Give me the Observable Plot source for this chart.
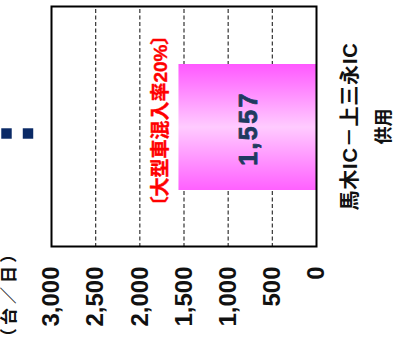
<!DOCTYPE html>
<html>
<head>
<meta charset="utf-8">
<script src="https://cdn.jsdelivr.net/npm/d3@7"></script>
<script src="https://cdn.jsdelivr.net/npm/@observablehq/plot@0.6"></script>
<style>
  html, body { margin: 0; padding: 0; background: #fff; overflow: hidden; }
  #chart {
    position: absolute; left: 0; top: 0; width: 338px; height: 394px;
    transform-origin: 0 0;
    transform: translate(0px, 338px) rotate(-90deg);
  }
  #chart svg { display: block; }
</style>
</head>
<body>
<div id="chart"></div>
<script>
const categories = ["馬木IC－上三永IC\n供用"];
const values = [1557];
const valueLabels = ["1,557"];
const yTicks = [0, 500, 1000, 1500, 2000, 2500, 3000];
const gridTicks = [500, 1000, 1500, 2000, 2500];
const noteText = "〔大型車混入率20%〕";
const unitLabel = "（台／日）";
const markers = ["■", "■"];

const data = categories.map((c, i) => ({
  cat: c, value: values[i], label: valueLabels[i],
  line1: c.split("\n")[0], line2: c.split("\n")[1]
}));

const fontFamily = "'Liberation Sans', 'Noto Sans CJK JP', sans-serif";

const chart = Plot.plot({
  width: 338,
  height: 394,
  marginLeft: 91,
  marginRight: 7,
  marginTop: 51,
  marginBottom: 78,
  style: {fontFamily, background: "#fff", color: "#111"},
  x: {domain: categories, padding: 0.311, axis: null},
  y: {domain: [0, 3000], axis: null},
  marks: [
    Plot.gridY(gridTicks, {stroke: "#333", strokeOpacity: 1, strokeWidth: 1.2, strokeDasharray: "4,2.5"}),
    Plot.barY(data, {x: "cat", y: "value", fill: "url(#barGrad)"}),
    Plot.text(data, {x: "cat", y: d => d.value / 2, text: "label", fill: "#1f3a60", stroke: "#1f3a60", strokeWidth: 0.8, fontSize: 25, fontWeight: "bold", dx: -2, dy: 1}),
    Plot.text(data, {x: "cat", y: "value", text: () => noteText, fill: "#ff0000", stroke: "#ff0000", strokeWidth: 0.4, fontSize: 19, fontWeight: "bold", dy: -18, dx: 6, lineAnchor: "middle"}),
    Plot.axisY({ticks: yTicks, tickSize: 0, tickPadding: 20, tickFormat: d3.format(","), fontSize: 24, fontWeight: "bold", fill: "#111", label: null}),
    Plot.text(data, {x: "cat", text: "line1", frameAnchor: "bottom", lineAnchor: "middle", dy: 34, fontSize: 20, fontWeight: "bold", fill: "#111"}),
    Plot.text(data, {x: "cat", text: "line2", frameAnchor: "bottom", lineAnchor: "middle", dy: 68, fontSize: 18, fontWeight: "bold", fill: "#111"}),
    Plot.text([unitLabel], {text: d => d, frameAnchor: "top-left", textAnchor: "middle", lineAnchor: "middle", dx: -47, dy: -42, fontSize: 17, fontWeight: "bold", fill: "#111"}),
    Plot.dot([markers[0]], {frameAnchor: "top", dx: -7, dy: -45, symbol: "square", r: 5.9, fill: "#0b2a66", stroke: "none"}),
    Plot.dot([markers[1]], {frameAnchor: "top", dx: -7, dy: -23.5, symbol: "square", r: 5.9, fill: "#0b2a66", stroke: "none"}),
    Plot.frame({stroke: "#000", strokeWidth: 2})
  ]
});

const svg = d3.select(chart);
const grad = svg.insert("defs", ":first-child").append("linearGradient")
  .attr("id", "barGrad").attr("x1", 0).attr("x2", 1).attr("y1", 0).attr("y2", 0);
grad.append("stop").attr("offset", "0%").attr("stop-color", "#ff60ff");
grad.append("stop").attr("offset", "50%").attr("stop-color", "#ffcbff");
grad.append("stop").attr("offset", "100%").attr("stop-color", "#ff58ff");

// typographic tweaks
svg.selectAll("text").each(function() {
  const t = d3.select(this);
  const s = t.text();
  if (s === valueLabels[0]) t.style("letter-spacing", "2.4px");
  if (s === noteText) t.style("font-feature-settings", "'palt'");
  if (s === data[0].line1) t.style("letter-spacing", "0.8px");
  if (s === unitLabel) t.style("font-feature-settings", "'palt'").style("letter-spacing", "4px");
});

document.getElementById("chart").appendChild(chart);
</script>
</body>
</html>
